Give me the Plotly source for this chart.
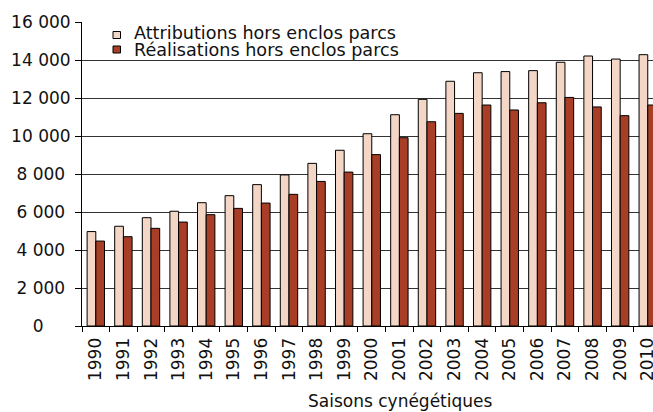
import plotly.graph_objects as go

seasons = [str(y) for y in range(1990, 2011)]
attributions = [4970, 5250, 5700, 6040, 6490, 6860, 7440, 7950, 8560, 9250,
                10120, 11120, 11930, 12880, 13330, 13390, 13440, 13880, 14210, 14050, 14280]
realisations = [4470, 4700, 5140, 5470, 5860, 6190, 6470, 6930, 7610, 8100,
                9020, 9910, 10750, 11190, 11630, 11370, 11750, 12030, 11530, 11070, 11630]
series_names = ["Attributions hors enclos parcs", "Réalisations hors enclos parcs"]
colors = ["#F3D6C6", "#A83E26"]
y_tick_vals = [0, 2000, 4000, 6000, 8000, 10000, 12000, 14000, 16000]
y_tick_text = ["0\u2007\u2007\u00a0", "2 000\u00a0", "4 000\u00a0", "6 000\u00a0", "8 000\u00a0",
               "10 000", "12 000", "14 000", "16 000"]
x_title = "Saisons cynégétiques"

FONT = "DejaVu Sans"
PW, PH = 571, 304

fig = go.Figure()
for name, vals, col in zip(series_names, [attributions, realisations], colors):
    fig.add_trace(go.Bar(x=seasons, y=vals, name=name, marker_color=col,
                         marker_line_color="#000", marker_line_width=1, showlegend=False))

# custom compact legend
legend_text_y = [(326 - 33.5) / PH, (326 - 49.5) / PH]
legend_mark_y = [(326 - 35) / PH, (326 - 49.5) / PH]
for name, col, ty, my in zip(series_names, colors, legend_text_y, legend_mark_y):
    fig.add_shape(type="rect", xref="paper", yref="paper",
                  x0=31 / PW, x1=38.5 / PW, y0=my - 3.5 / PH, y1=my + 3.5 / PH,
                  fillcolor=col, line=dict(color="#000", width=1))
    fig.add_annotation(text=name, xref="paper", yref="paper", x=50 / PW, y=ty,
                       xanchor="left", yanchor="middle", showarrow=False,
                       font=dict(family=FONT, size=17.6, color="#111"))

fig.add_annotation(text=x_title, xref="paper", yref="paper", x=(400 - 82) / PW,
                   y=(326 - 401) / PH, xanchor="center", yanchor="middle", showarrow=False,
                   font=dict(family=FONT, size=17, color="#111"))

fig.update_layout(
    width=653, height=412,
    margin=dict(l=82, r=0, t=22, b=86),
    paper_bgcolor="white", plot_bgcolor="white",
    barmode="group", bargap=0.37, bargroupgap=0,
    font=dict(family=FONT, color="#111"),
)
fig.update_xaxes(
    type="category", range=[-0.5, 20.19], automargin=False,
    tickson="boundaries", ticks="outside", ticklen=5, tickcolor="#000",
    tickangle=-90, tickfont=dict(size=17, family=FONT), ticklabelstandoff=4,
    showline=True, linecolor="#000", linewidth=1, showgrid=False,
)
fig.update_yaxes(
    range=[0, 16000], tickvals=y_tick_vals, ticktext=y_tick_text, automargin=False,
    ticks="outside", ticklen=6, tickcolor="#000", ticklabelstandoff=1,
    tickfont=dict(size=17, family=FONT),
    showline=True, linecolor="#000", linewidth=1,
    showgrid=True, gridcolor="#333", gridwidth=1, zeroline=False,
)
fig.write_html("out.html", config={"displayModeBar": False},
               post_script="document.body.style.margin='0';document.body.style.overflow='hidden';")
